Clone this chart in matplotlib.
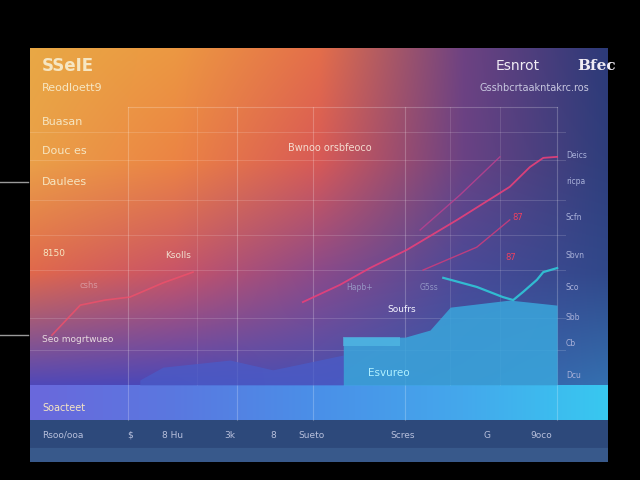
import numpy as np
import matplotlib
matplotlib.use('Agg')
import matplotlib.pyplot as plt
from matplotlib.colors import to_rgb
from matplotlib.lines import Line2D

# --- Series (x: 0-100 timeline, y: 0-100 index; panel bottom bands sit below 0) ---
line_a_x = [3.8, 8.7, 13.0, 17.3, 23.0, 28.2]
line_a_y = [14.8, 23.7, 25.2, 26.1, 30.3, 33.5]
line_b_x = [47.2, 53.6, 58.8, 65.2, 73.9, 83.0, 86.5, 88.8, 91.2]
line_b_y = [24.6, 29.7, 34.7, 40.1, 49.0, 58.8, 64.7, 67.4, 67.7]
line_c_x = [67.5, 74.4, 81.3]
line_c_y = [46.0, 56.4, 67.7]
line_d_x = [68.0, 77.3, 83.0]
line_d_y = [34.1, 40.9, 49.0]
cyan_x = [71.5, 77.3, 81.8, 83.6, 85.3, 87.7, 88.8, 91.2]
cyan_y = [31.8, 29.1, 26.1, 25.2, 27.6, 31.2, 33.5, 34.7]
teal_x = [54.2, 64.9, 69.2, 72.7, 83.0, 91.2]
teal_y = [14.2, 14.2, 16.3, 23.1, 25.2, 23.7]
blue_x = [19.0, 23.0, 34.6, 42.0, 48.4, 54.2]
blue_y = [1.5, 5.3, 7.4, 4.5, 6.8, 8.9]

# Grid positions
major_x = [17.0, 35.8, 49.0, 64.9, 91.2]
minor_x = [28.9, 72.7, 81.3]
grid_y = [75.1, 66.8, 54.9, 44.5, 34.1, 19.9, 10.4]

# Labels
right_labels = ["Deics", "ricpa", "Scfn", "Sbvn", "Sco", "Sbb", "Cb", "Dcu"]
right_label_y = [155, 181, 218, 256, 287, 318, 344, 376]
bottom_labels = ["Rsoo/ooa", "$", "8 Hu", "3k", "8", "Sueto", "Scres", "G", "9oco"]
bottom_label_x = [42, 127, 162, 224, 270, 298, 390, 484, 530]

# Background colour grid (rows top->bottom of plot area, cols left->right)
bg_grid = [
    ["#e8a845", "#ec9842", "#e46e4a", "#6e4282", "#2c3a78"],
    ["#eaa048", "#ec8444", "#d85a56", "#6a4284", "#2e3e7c"],
    ["#e0684c", "#c85468", "#8a4a8a", "#4a4a98", "#30488a"],
    ["#5048b8", "#4a48b8", "#4850b0", "#3a5aa8", "#3470b0"],
]
band_cols = ["#6a68dc", "#5a78e0", "#4a90e8", "#44a8ec", "#38c8f0"]

W, H = 578, 337


def upsample(grid, w, h):
    g = np.array([[to_rgb(c) for c in row] for row in grid])
    gy, gx = g.shape[0], g.shape[1]
    xs = np.linspace(0, gx - 1, w)
    ys = np.linspace(0, gy - 1, h)
    tmp = np.empty((gy, w, 3))
    for r in range(gy):
        for ch in range(3):
            tmp[r, :, ch] = np.interp(xs, np.arange(gx), g[r, :, ch])
    out = np.empty((h, w, 3))
    for c in range(w):
        for ch in range(3):
            out[:, c, ch] = np.interp(ys, np.arange(gy), tmp[:, c, ch])
    return out


plot_bg = upsample(bg_grid, W, H)
band_bg = upsample([band_cols, band_cols], W, 35)
strip_bg = np.ones((42, W, 3)) * np.array(to_rgb("#2e4a7c"))
strip_bg[28:] = to_rgb("#395a8c")
full_bg = np.concatenate([plot_bg, band_bg, strip_bg], axis=0)

fig = plt.figure(figsize=(6.4, 4.8), dpi=100, facecolor='black')
ax = fig.add_axes([30 / 640, 18 / 480, 578 / 640, 414 / 480])
ymin = -22.85
ax.imshow(full_bg, extent=(0, 100, ymin, 100), aspect='auto', zorder=0)
ax.set_xlim(0, 100)
ax.set_ylim(ymin, 100)
ax.axis('off')

# Grid
for x in major_x:
    ax.plot([x, x], [-10.4, 82.5], color='white', alpha=0.22, lw=0.8, zorder=1)
for x in minor_x:
    ax.plot([x, x], [0, 82.5], color='white', alpha=0.12, lw=0.7, zorder=1)
ax.plot([17.0, 91.2], [82.5, 82.5], color='white', alpha=0.22, lw=0.8, zorder=1)
for y in grid_y:
    ax.plot([0, 92.5], [y, y], color='white', alpha=0.15, lw=0.7, zorder=1)

# Areas
ax.fill_between(blue_x, 0, blue_y, color='#4a5cc8', alpha=0.75, lw=0, zorder=2)
ax.fill_between(teal_x, 0, teal_y, color='#3aa6dc', alpha=0.85, lw=0, zorder=2)
ax.fill_between([54.2, 64.0], [11.5, 11.5], [14.2, 14.2], color='#56c0e8', alpha=0.6, lw=0, zorder=3)

# Lines
ax.plot(line_a_x, line_a_y, color='#f0506a', lw=1.2, alpha=0.8, zorder=4)
ax.plot(line_b_x, line_b_y, color='#e8407a', lw=1.3, alpha=0.9, zorder=4)
ax.plot(line_c_x, line_c_y, color='#c04090', lw=1.0, alpha=0.8, zorder=4)
ax.plot(line_d_x, line_d_y, color='#d03c7c', lw=1.0, alpha=0.85, zorder=4)
ax.plot(cyan_x, cyan_y, color='#30c8d8', lw=1.6, alpha=0.9, zorder=5)


def P(x, y):
    return x / 640, 1 - y / 480


cream = '#f6e6c2'
fig.text(*P(42, 66), "SSeIE", color=cream, fontsize=12, fontweight='bold', va='center')
fig.text(*P(42, 88), "Reodloett9", color=cream, fontsize=8, va='center')
fig.text(*P(42, 122), "Buasan", color=cream, fontsize=8, va='center')
fig.text(*P(42, 151), "Douc es", color=cream, fontsize=8, va='center')
fig.text(*P(42, 182), "Daulees", color=cream, fontsize=8, va='center')
fig.text(*P(42, 253), "8150", color=cream, fontsize=6.5, va='center')
fig.text(*P(42, 339), "Seo mogrtwueo", color='#e8dce0', fontsize=6.5, va='center')
fig.text(*P(165, 256), "Ksolls", color='#f0e0d0', fontsize=6.5, va='center')
fig.text(*P(80, 285), "cshs", color='#e0b0b8', fontsize=6, va='center', alpha=0.7)
fig.text(*P(288, 148), "Bwnoo orsbfeoco", color='#f4dcd0', fontsize=7, va='center')
fig.text(*P(496, 66), "Esnrot", color='#f0ecf4', fontsize=10, va='center')
fig.text(*P(577, 66), "Bfec", color='#f0ecf4', fontsize=11, fontweight='bold',
         family='DejaVu Serif', va='center')
fig.text(*P(480, 88), "Gsshbcrtaakntakrc.ros", color='#c8c8e0', fontsize=7, va='center')
for lab, y in zip(right_labels, right_label_y):
    fig.text(*P(566, y), lab, color='#a8b0d8', fontsize=5.5, va='center')
fig.text(*P(512, 218), "87", color='#f04060', fontsize=6, va='center')
fig.text(*P(505, 257), "87", color='#f04060', fontsize=6, va='center')
fig.text(*P(346, 288), "Hapb+", color='#a0a8d0', fontsize=5.5, va='center', alpha=0.8)
fig.text(*P(420, 288), "G5ss", color='#a0a8d0', fontsize=5.5, va='center', alpha=0.8)
fig.text(*P(387, 310), "Soufrs", color='#f4f4ff', fontsize=6.5, va='center')
fig.text(*P(368, 373), "Esvureo", color='#b0f0ff', fontsize=7.5, va='center')
fig.text(*P(42, 408), "Soacteet", color=cream, fontsize=7, va='center')
for lab, x in zip(bottom_labels, bottom_label_x):
    fig.text(*P(x, 435), lab, color='#b8c0dc', fontsize=6.5, va='center')

# Stray tick marks left of the panel
for y in [182, 335]:
    fig.add_artist(Line2D([0, 28 / 640], [1 - y / 480] * 2, color='#9a9a9a', lw=1.0))

fig.savefig('out.png', dpi=100, facecolor='black')
